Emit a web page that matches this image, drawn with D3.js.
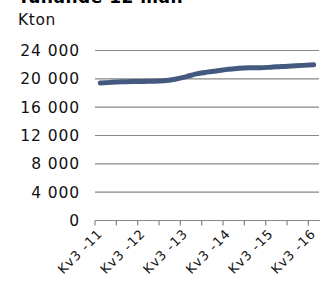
<!DOCTYPE html>
<html>
<head>
<meta charset="utf-8">
<script src="https://cdn.jsdelivr.net/npm/d3@7"></script>
<style>
  body { margin: 0; background: #fff; }
  svg { display: block; font-family: "DejaVu Sans", sans-serif; }
</style>
</head>
<body>
<div class="root"></div>
<script>
const width = 326;
const height = 282;

// quarterly, Kv3-11 .. Kv3-16
const quarters = [
  "Kv3 -11", "Kv4 -11", "Kv1 -12", "Kv2 -12", "Kv3 -12", "Kv4 -12",
  "Kv1 -13", "Kv2 -13", "Kv3 -13", "Kv4 -13", "Kv1 -14", "Kv2 -14",
  "Kv3 -14", "Kv4 -14", "Kv1 -15", "Kv2 -15", "Kv3 -15", "Kv4 -15",
  "Kv1 -16", "Kv2 -16", "Kv3 -16"
];
const kton = [
  19400, 19500, 19580, 19620, 19640, 19650, 19720, 19950, 20280, 20700,
  20950, 21150, 21350, 21500, 21550, 21560, 21640, 21750, 21820, 21900, 22000
];
const yTicks = [0, 4000, 8000, 12000, 16000, 20000, 24000];
const labelQuarters = ["Kv3 -11", "Kv3 -12", "Kv3 -13", "Kv3 -14", "Kv3 -15", "Kv3 -16"];

const svg = d3.select("div.root").append("svg")
  .attr("width", width)
  .attr("height", height);

const x = d3.scaleBand().domain(quarters).range([95, 319]).padding(0);
const y = d3.scaleLinear().domain([0, 24000]).range([220.5, 50.5]);

const fmt = v => d3.format(",")(v).replace(/,/g, " ");

// title, mostly cut off at top like the source
svg.append("text")
  .attr("x", 18).attr("y", 3)
  .attr("font-size", 17).attr("font-weight", "bold")
  .attr("letter-spacing", 0.5)
  .text("Tullande 12 mån");

svg.append("text")
  .attr("x", 18).attr("y", 25)
  .attr("font-size", 15.5).attr("letter-spacing", 0.6)
  .attr("fill", "#111")
  .text("Kton");

// gridlines
svg.append("g").selectAll("line")
  .data(yTicks.filter(d => d > 0))
  .enter().append("line")
  .attr("x1", 95).attr("x2", 319)
  .attr("y1", d => y(d)).attr("y2", d => y(d))
  .attr("stroke", "#888").attr("stroke-width", 1.2);

// y labels
svg.append("g").selectAll("text")
  .data(yTicks)
  .enter().append("text")
  .attr("x", 80).attr("y", d => y(d) + 5.5)
  .attr("text-anchor", "end")
  .attr("font-size", 15.5).attr("letter-spacing", 0.9)
  .attr("fill", "#111")
  .text(fmt);

// x axis
const xg = svg.append("g");
xg.append("line")
  .attr("x1", 95).attr("x2", 320)
  .attr("y1", y(0)).attr("y2", y(0))
  .attr("stroke", "#888").attr("stroke-width", 1.2);
xg.selectAll("line.tick")
  .data(quarters.filter((d, i) => i % 2 === 0))
  .enter().append("line")
  .attr("class", "tick")
  .attr("x1", d => x(d)).attr("x2", d => x(d))
  .attr("y1", y(0)).attr("y2", y(0) + 5)
  .attr("stroke", "#888").attr("stroke-width", 1.2);

xg.selectAll("text")
  .data(labelQuarters)
  .enter().append("text")
  .attr("transform", d => `translate(${x(d) + x.bandwidth() / 2 + 3},${y(0) + 14}) rotate(-45)`)
  .attr("text-anchor", "end")
  .attr("font-size", 13).attr("letter-spacing", 1)
  .attr("fill", "#111")
  .text(d => d);

// line
const line = d3.line()
  .x((d, i) => x(quarters[i]) + x.bandwidth() / 2)
  .y(d => y(d))
  .curve(d3.curveMonotoneX);

svg.append("path")
  .datum(kton)
  .attr("d", line)
  .attr("fill", "none")
  .attr("stroke", "#44597f")
  .attr("stroke-width", 5)
  .attr("stroke-linecap", "round")
  .attr("stroke-linejoin", "round");
</script>
</body>
</html>
